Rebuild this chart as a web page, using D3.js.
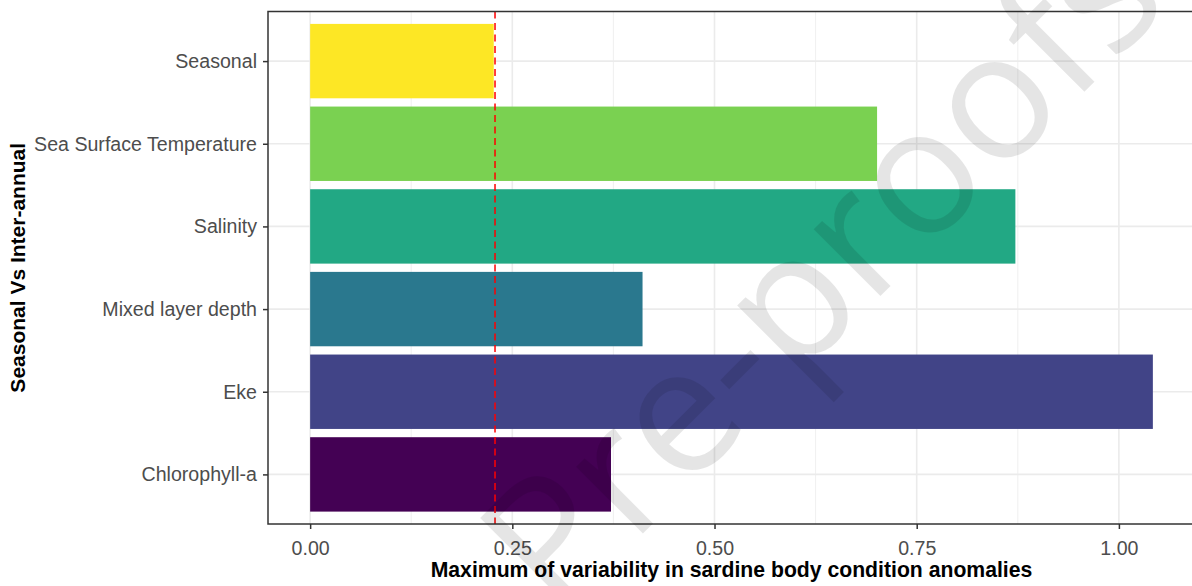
<!doctype html>
<html>
  <head>
    <meta charset="utf-8">
    <title>Maximum of variability in sardine body condition anomalies</title>
    <script src="https://cdnjs.cloudflare.com/ajax/libs/d3/7.8.5/d3.min.js"></script>
    <style>
      body { margin: 0; background: #fff; }
      text { font-family: "Liberation Sans", Arial, sans-serif; }
    </style>
  </head>
  <body>
    <div id="my-svg-chart"></div>

    <script>
      // data, top to bottom as drawn
      const categories = ['Seasonal', 'Sea Surface Temperature', 'Salinity', 'Mixed layer depth', 'Eke', 'Chlorophyll-a'],
            values = [0.227, 0.701, 0.872, 0.411, 1.042, 0.372],
            colours = ['#FDE725', '#7AD151', '#22A884', '#2A788E', '#414487', '#440154'],
            xTicks = [0, 0.25, 0.5, 0.75, 1.0],
            xTickLabels = ['0.00', '0.25', '0.50', '0.75', '1.00'],
            xMinor = [0.125, 0.375, 0.625, 0.875],
            seasonalLine = 0.2286

      const W = 1192, H = 586
      const panel = {left: 268, right: 1195, top: 11.5, bottom: 524}

      // scales, ggplot style expansion
      const maxV = d3.max(values)
      const pad = 0.05 * maxV
      const x = d3.scaleLinear().domain([-pad, maxV + pad]).range([panel.left, panel.right])
      const y = d3.scalePoint().domain(categories).range([panel.top, panel.bottom]).padding(0.6)
      const barH = y.step() * 0.9

      const svg = d3.select('#my-svg-chart')
                .append('svg')
                .attr('width', W)
                .attr('height', H)

      // grid
      svg.selectAll('.minor')
        .data(xMinor)
        .join('line')
        .attr('x1', d => x(d)).attr('x2', d => x(d))
        .attr('y1', panel.top).attr('y2', panel.bottom)
        .style('stroke', '#EBEBEB').style('stroke-width', 0.8)

      svg.selectAll('.vmajor')
        .data(xTicks)
        .join('line')
        .attr('x1', d => x(d)).attr('x2', d => x(d))
        .attr('y1', panel.top).attr('y2', panel.bottom)
        .style('stroke', '#EBEBEB').style('stroke-width', 1.6)

      svg.selectAll('.hmajor')
        .data(categories)
        .join('line')
        .attr('x1', panel.left).attr('x2', panel.right)
        .attr('y1', d => y(d)).attr('y2', d => y(d))
        .style('stroke', '#EBEBEB').style('stroke-width', 1.6)

      // bars
      svg.selectAll('rect.bar')
        .data(categories)
        .join('rect')
        .attr('class', 'bar')
        .attr('x', x(0))
        .attr('y', d => y(d) - barH / 2)
        .attr('width', (d, i) => x(values[i]) - x(0))
        .attr('height', barH)
        .style('fill', (d, i) => colours[i])

      // dashed reference line
      svg.append('line')
        .attr('x1', x(seasonalLine)).attr('x2', x(seasonalLine))
        .attr('y1', panel.top).attr('y2', panel.bottom)
        .style('stroke', '#FF0000')
        .style('stroke-width', 1.5)
        .style('stroke-dasharray', '7,4.5')

      // panel border
      svg.append('rect')
        .attr('x', panel.left).attr('y', panel.top)
        .attr('width', panel.right - panel.left)
        .attr('height', panel.bottom - panel.top)
        .style('fill', 'none')
        .style('stroke', '#333333')
        .style('stroke-width', 1.5)

      // axes
      const xAxis = d3.axisBottom(x)
        .tickValues(xTicks)
        .tickFormat((d, i) => xTickLabels[i])
        .tickSize(5).tickPadding(12)
      const gx = svg.append('g')
        .attr('transform', `translate(0,${panel.bottom})`)
        .call(xAxis)
      gx.select('.domain').remove()

      const yAxis = d3.axisLeft(y).tickSize(5).tickPadding(6)
      const gy = svg.append('g')
        .attr('transform', `translate(${panel.left},0)`)
        .call(yAxis)
      gy.select('.domain').remove()

      svg.selectAll('.tick line').style('stroke', '#333333').style('stroke-width', 1.5)
      svg.selectAll('.tick text')
        .style('fill', '#4D4D4D')
        .style('font-size', '19.6px')
        .style('font-family', '"Liberation Sans", Arial, sans-serif')

      // axis titles
      svg.append('text')
        .attr('x', (panel.left + panel.right) / 2)
        .attr('y', 577)
        .text('Maximum of variability in sardine body condition anomalies')
        .style('text-anchor', 'middle')
        .style('font-weight', 'bold')
        .style('font-size', '21.2px')

      svg.append('text')
        .attr('transform', `translate(25,${(panel.top + panel.bottom) / 2}) rotate(-90)`)
        .text('Seasonal Vs Inter-annual')
        .style('text-anchor', 'middle')
        .style('font-weight', 'bold')
        .style('font-size', '21px')

      // watermark: fit it so the "e" and first "o" sit where they are in the picture
      const wm = svg.append('text')
        .attr('x', 0).attr('y', 0)
        .text('Pre-proofs')
        .style('font-family', '"Open Sans", sans-serif')
        .style('fill', '#000')
        .style('fill-opacity', 0.1)

      const eTarget = [687, 427], oTarget = [922, 182]
      const ang = -45 * Math.PI / 180
      function charMid(i) {
        const b = wm.node().getExtentOfChar(i)
        return b.x + b.width / 2
      }
      let fs = 176
      wm.style('font-size', fs + 'px')
      const want = Math.hypot(oTarget[0] - eTarget[0], oTarget[1] - eTarget[1])
      fs = fs * want / (charMid(6) - charMid(2))
      wm.style('font-size', fs + 'px')
      const mx = (charMid(2) + charMid(6)) / 2, my = -0.27 * fs
      const rx = mx * Math.cos(ang) - my * Math.sin(ang),
            ry = mx * Math.sin(ang) + my * Math.cos(ang)
      const tx = (eTarget[0] + oTarget[0]) / 2 - rx,
            ty = (eTarget[1] + oTarget[1]) / 2 - ry
      wm.attr('transform', `translate(${tx},${ty}) rotate(-45)`)
    </script>
  </body>
</html>
